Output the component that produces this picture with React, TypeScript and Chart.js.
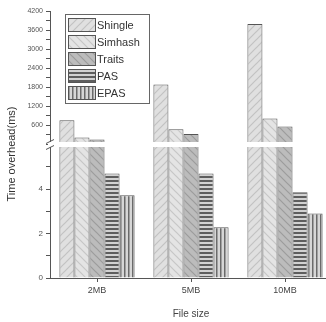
import React, { useEffect, useRef } from 'react';
import { Chart, registerables } from 'chart.js';
Chart.register(...registerables);

const categories = ['2MB', '5MB', '10MB'];
const seriesNames = ['Shingle', 'Simhash', 'Traits', 'PAS', 'EPAS'];
const shingle = [760, 1890, 3790];
const simhash = [220, 480, 820];
const traits = [160, 330, 570];
const pas = [4.7, 4.7, 3.85];
const epas = [3.72, 2.28, 2.9];
const lowerMax = 6;
const upperMax = 4200;
const lowerLabels = [0, 2, 4];
const upperLabels = [600, 1200, 1800, 2400, 3000, 3600, 4200];

const seriesValues = [shingle, simhash, traits, pas, epas];

function makePattern(kind: string): CanvasPattern | string {
  const c = document.createElement('canvas');
  const s = 8;
  c.width = s;
  c.height = s;
  const g = c.getContext('2d')!;
  if (kind === 'Shingle') {
    g.fillStyle = '#e0e0e0';
    g.fillRect(0, 0, s, s);
    g.strokeStyle = '#c2c2c2';
    g.lineWidth = 1.2;
    g.beginPath();
    g.moveTo(0, s); g.lineTo(s, 0);
    g.moveTo(-4, 4); g.lineTo(4, -4);
    g.moveTo(4, 12); g.lineTo(12, 4);
    g.stroke();
  } else if (kind === 'Simhash') {
    g.fillStyle = '#e4e4e4';
    g.fillRect(0, 0, s, s);
    g.strokeStyle = '#c6c6c6';
    g.lineWidth = 1.2;
    g.beginPath();
    g.moveTo(0, 0); g.lineTo(s, s);
    g.moveTo(-4, 4); g.lineTo(4, 12);
    g.moveTo(4, -4); g.lineTo(12, 4);
    g.stroke();
  } else if (kind === 'Traits') {
    g.fillStyle = '#bcbcbc';
    g.fillRect(0, 0, s, s);
    g.strokeStyle = '#9c9c9c';
    g.lineWidth = 1.2;
    g.beginPath();
    g.moveTo(0, 0); g.lineTo(s, s);
    g.moveTo(-4, 4); g.lineTo(4, 12);
    g.moveTo(4, -4); g.lineTo(12, 4);
    g.stroke();
  } else if (kind === 'PAS') {
    g.fillStyle = '#d2d2d2';
    g.fillRect(0, 0, s, s);
    g.fillStyle = '#5e5e5e';
    g.fillRect(0, 0, s, 2);
    g.fillRect(0, 4, s, 2);
  } else {
    g.fillStyle = '#d6d6d6';
    g.fillRect(0, 0, s, s);
    g.fillStyle = '#6a6a6a';
    g.fillRect(0, 0, 1.5, s);
    g.fillRect(4, 0, 1.5, s);
  }
  const p = g.createPattern(c, 'repeat');
  return p || '#ccc';
}

export default function App() {
  const ref = useRef<HTMLCanvasElement | null>(null);
  useEffect(() => {
    if (!ref.current) return;
    document.body.style.overflow = 'hidden';
    const patterns = seriesNames.map((n) => makePattern(n));
    const lowerSets = seriesNames.map((name, i) => ({
      label: name,
      data: seriesValues[i].map((v) => Math.min(v, lowerMax)),
      yAxisID: 'yLow',
      stack: name,
      backgroundColor: patterns[i],
      borderColor: '#555',
      borderWidth: 1,
    }));
    const upperSets = seriesNames.map((name, i) => ({
      label: name + '-upper',
      data: seriesValues[i].map((v) => (v > lowerMax ? v : null)),
      yAxisID: 'yHigh',
      stack: name,
      backgroundColor: patterns[i],
      borderColor: '#555',
      borderWidth: 1,
    }));

    const breakPlugin = {
      id: 'breakPlugin',
      afterDatasetsDraw(chart: any) {
        const ctx = chart.ctx;
        const area = chart.chartArea;
        const yL = chart.scales.yLow;
        const yb = yL.getPixelForValue(lowerMax);
        ctx.save();
        ctx.fillStyle = '#ffffff';
        ctx.fillRect(area.left + 1, yb - 2.5, area.right - area.left, 5);
        ctx.restore();
      },
      afterDraw(chart: any) {
        const ctx = chart.ctx;
        const area = chart.chartArea;
        const yL = chart.scales.yLow;
        const yb = yL.getPixelForValue(lowerMax);
        const x = area.left;
        ctx.save();
        ctx.fillStyle = '#ffffff';
        ctx.fillRect(x - 2, yb - 2.5, 4, 5);
        ctx.strokeStyle = '#555';
        ctx.lineWidth = 1;
        ctx.beginPath();
        ctx.moveTo(x - 4, yb - 1); ctx.lineTo(x + 4, yb - 5);
        ctx.moveTo(x - 4, yb + 5); ctx.lineTo(x + 4, yb + 1);
        ctx.stroke();

        // y title
        ctx.fillStyle = '#333';
        ctx.font = '11px "Liberation Sans", Arial, sans-serif';
        ctx.textAlign = 'center';
        ctx.textBaseline = 'middle';
        ctx.translate(12, 154);
        ctx.rotate(-Math.PI / 2);
        ctx.fillText('Time overhead(ms)', 0, 0);
        ctx.restore();

        // legend
        ctx.save();
        const lx = 65, ly = 14, lw = 84, lh = 89;
        ctx.fillStyle = '#ffffff';
        ctx.fillRect(lx, ly, lw, lh);
        ctx.strokeStyle = '#666';
        ctx.lineWidth = 1;
        ctx.strokeRect(lx + 0.5, ly + 0.5, lw, lh);
        ctx.font = '11px "Liberation Sans", Arial, sans-serif';
        ctx.textAlign = 'left';
        ctx.textBaseline = 'middle';
        seriesNames.forEach((name, i) => {
          const cy = 25 + i * 17;
          ctx.fillStyle = patterns[i] as any;
          ctx.fillRect(68, cy - 7, 27, 14);
          ctx.strokeStyle = '#555';
          ctx.strokeRect(68.5, cy - 6.5, 27, 13);
          ctx.fillStyle = '#333';
          ctx.fillText(name, 97, cy + 1);
        });
        ctx.restore();
      },
    };

    const chart = new Chart(ref.current, {
      type: 'bar',
      data: { labels: categories, datasets: [...lowerSets, ...upperSets] as any },
      options: {
        animation: false,
        responsive: false,
        layout: { padding: { top: 11, right: 8, left: 0, bottom: 0 } },
        datasets: { bar: { categoryPercentage: 0.8, barPercentage: 1 } } as any,
        plugins: { legend: { display: false }, tooltip: { enabled: false } },
        scales: {
          x: {
            grid: { drawOnChartArea: false, tickLength: 4, color: '#555', offset: false },
            border: { color: '#555' },
            ticks: { font: { size: 9, family: '"Liberation Sans", Arial, sans-serif' }, color: '#444', padding: 3 },
            title: {
              display: true,
              text: 'File size',
              font: { size: 10, family: '"Liberation Sans", Arial, sans-serif' },
              color: '#444',
              padding: { top: 6, bottom: 2 },
            },
            afterFit: (s: any) => { s.height = 44; },
          },
          yLow: {
            type: 'linear',
            position: 'left',
            stack: 'y',
            stackWeight: 1,
            stacked: false,
            min: 0,
            max: lowerMax,
            grid: { drawOnChartArea: false, tickLength: 4, color: '#555' },
            border: { color: '#555' },
            ticks: {
              stepSize: 1,
              autoSkip: false,
              padding: 3,
              color: '#555',
              font: { size: 8, family: '"Liberation Sans", Arial, sans-serif' },
              callback: (v: any) => (lowerLabels.includes(Number(v)) ? String(v) : ''),
            },
            afterFit: (s: any) => { s.width = 50; },
          },
          yHigh: {
            type: 'linear',
            position: 'left',
            stack: 'y',
            stackWeight: 1,
            stacked: false,
            min: 0,
            max: upperMax,
            grid: { drawOnChartArea: false, tickLength: 4, color: '#555' },
            border: { color: '#555' },
            ticks: {
              stepSize: 300,
              autoSkip: false,
              padding: 3,
              color: '#555',
              font: { size: 7, family: '"Liberation Sans", Arial, sans-serif' },
              callback: (v: any) => (upperLabels.includes(Number(v)) ? String(v) : ''),
            },
            afterFit: (s: any) => { s.width = 50; },
          },
        } as any,
      },
      plugins: [breakPlugin],
    });
    return () => chart.destroy();
  }, []);
  return (
    <div style={{ position: 'fixed', left: 0, top: 0, width: 326, height: 322, overflow: 'hidden', background: '#fff' }}>
      <canvas ref={ref} width={340} height={322} style={{ display: 'block' }} />
    </div>
  );
}
